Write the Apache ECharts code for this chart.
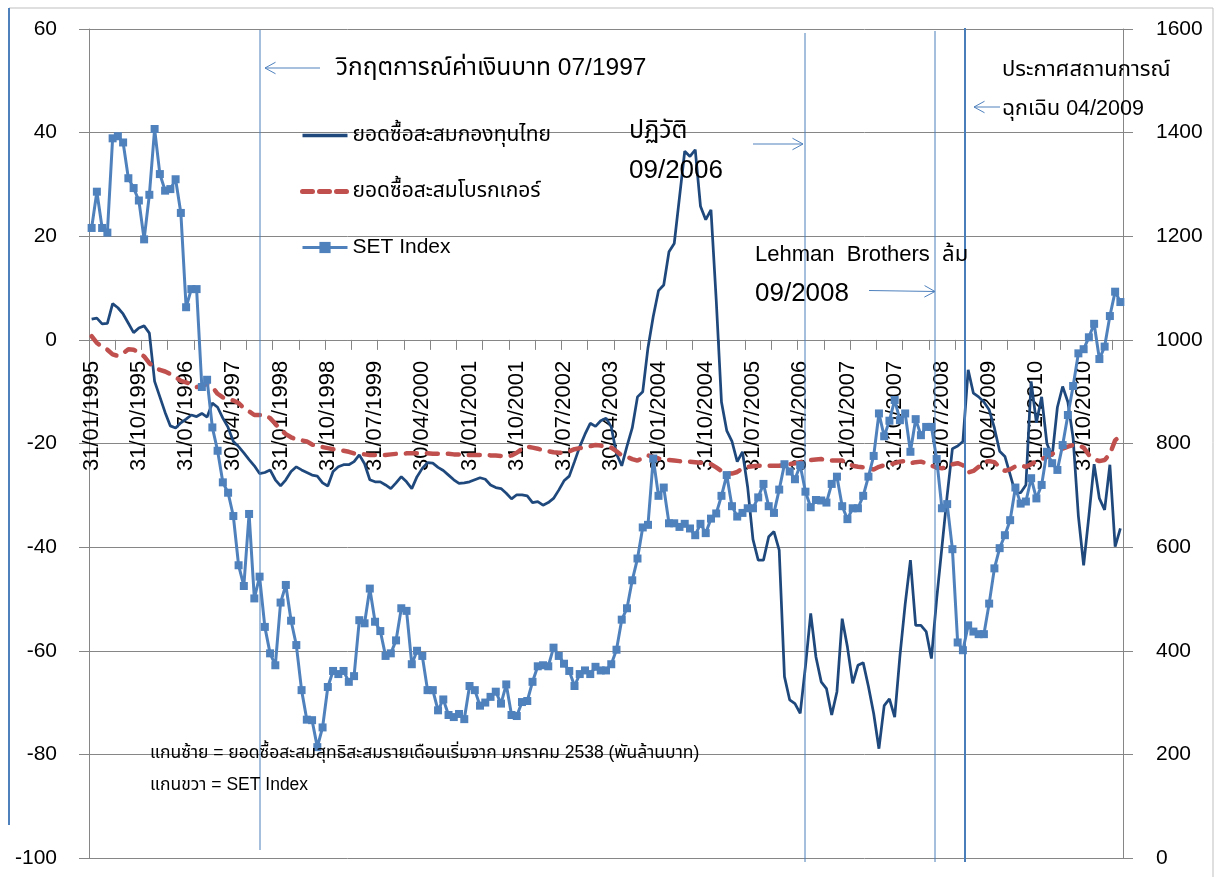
<!DOCTYPE html>
<html>
<head>
<meta charset="utf-8">
<script src="https://cdn.jsdelivr.net/npm/echarts@6/dist/echarts.min.js"></script>
<style>
html,body{margin:0;padding:0;background:#fff;}
#chart{width:1216px;height:877px;}
</style>
</head>
<body>
<div id="chart"></div>
<script>
// ---- data ----
const startYear = 1995;
const startMonth = 1;

const seriesNames = ['ยอดซื้อสะสมกองทุนไทย', 'ยอดซื้อสะสมโบรกเกอร์', 'SET Index'];

const thaiFund = [
4.0,4.2,3.1,3.2,7.0,6.2,5.0,3.2,1.4,2.3,2.7,1.3,-8.0,-11.0,-14.0,-16.6,-17.0,-16.0,-15.3,-14.5,
-14.8,-14.2,-14.9,-12.2,-13.0,-15.1,-16.9,-19.6,-20.6,-21.8,-23.1,-24.3,-25.8,-25.6,-25.1,-27.0,-28.2,-27.0,-25.4,-24.5,
-25.1,-25.6,-26.1,-26.3,-27.6,-28.2,-25.4,-24.5,-24.1,-24.1,-23.5,-22.2,-23.9,-27.0,-27.4,-27.4,-28.0,-28.7,-27.6,-26.4,
-27.4,-28.7,-26.4,-24.8,-23.7,-23.8,-24.6,-25.2,-26.1,-27.0,-27.7,-27.6,-27.4,-27.0,-26.6,-26.9,-28.0,-28.5,-28.7,-29.6,
-30.7,-29.9,-29.9,-30.1,-31.4,-31.2,-31.9,-31.4,-30.6,-29.0,-27.2,-26.3,-23.5,-20.6,-18.2,-16.1,-16.7,-15.6,-15.1,-16.8,
-22.0,-24.3,-20.5,-17.0,-11.0,-10.0,-1.5,4.5,9.5,10.6,17.0,18.6,27.5,36.4,35.4,36.7,25.8,23.2,25.1,7.7,
-12.0,-17.5,-19.6,-23.5,-21.6,-28.5,-38.5,-42.5,-42.5,-38.0,-37.0,-40.6,-65.0,-69.5,-70.2,-72.1,-63.0,-52.8,-61.2,-66.0,
-67.3,-72.4,-67.9,-53.8,-59.3,-66.3,-62.8,-62.3,-66.9,-72.1,-78.9,-70.6,-69.3,-72.8,-61.0,-51.0,-42.5,-55.1,-55.1,-56.3,
-61.5,-50.0,-40.0,-30.0,-21.0,-20.5,-19.6,-5.8,-10.3,-11.0,-12.0,-13.5,-17.0,-21.5,-22.5,-26.0,-29.6,-29.5,-28.0,-8.0,
-16.0,-11.0,-20.0,-22.5,-13.0,-9.0,-12.0,-19.0,-34.0,-43.5,-34.0,-24.0,-30.6,-32.8,-24.1,-39.9,-36.4
];

const broker = [
0.7,-0.6,-1.3,-1.9,-2.8,-3.1,-2.6,-1.8,-1.9,-2.4,-3.2,-4.5,-5.3,-5.8,-6.1,-6.6,-7.2,-7.9,-8.2,-8.6,
-9.1,-8.9,-8.5,-9.1,-10.4,-11.1,-11.5,-11.7,-12.2,-13.2,-13.8,-14.5,-14.5,-14.5,-15.1,-16.2,-17.3,-18.2,-18.8,-19.2,
-19.4,-19.6,-20.2,-20.5,-20.7,-20.9,-21.1,-21.2,-21.4,-21.6,-21.9,-22.0,-22.1,-22.2,-22.2,-22.2,-22.2,-22.1,-22.0,-22.0,
-21.9,-21.9,-21.9,-21.9,-21.9,-22.0,-22.0,-22.0,-22.0,-22.1,-22.1,-22.2,-22.2,-22.2,-22.2,-22.2,-22.3,-22.3,-22.4,-22.5,
-22.3,-21.8,-21.0,-20.6,-20.8,-21.0,-21.3,-21.5,-21.7,-21.8,-21.7,-21.5,-21.1,-20.9,-20.7,-20.5,-20.3,-20.4,-20.6,-20.8,
-21.5,-22.3,-22.6,-23.0,-23.3,-22.8,-22.3,-22.6,-22.9,-23.1,-23.2,-23.3,-23.4,-23.5,-23.5,-23.6,-23.7,-23.8,-24.0,-24.6,
-25.3,-25.8,-25.8,-25.5,-24.8,-24.5,-24.4,-24.3,-24.3,-24.3,-24.3,-24.3,-24.1,-24.0,-23.8,-23.6,-23.4,-23.2,-23.1,-23.0,
-23.2,-23.3,-23.3,-23.3,-23.8,-24.3,-24.5,-24.6,-24.9,-25.0,-24.5,-24.2,-24.0,-23.8,-23.5,-23.4,-23.8,-23.6,-23.5,-23.8,
-24.3,-24.6,-24.8,-24.5,-24.0,-23.8,-24.2,-25.6,-25.3,-24.5,-23.6,-23.4,-23.6,-24.6,-25.3,-25.0,-24.4,-24.2,-24.5,-24.0,
-23.4,-23.0,-22.6,-22.0,-21.6,-21.0,-20.6,-20.3,-20.4,-20.8,-22.2,-23.0,-23.4,-23.2,-22.0,-19.4,-18.5
];

const setIndex = [
1216,1286,1216,1207,1389,1393,1381,1312,1293,1269,1194,1280,1407,1320,1288,1291,1310,1245,1063,1098,
1098,909,923,831,786,725,705,660,565,525,664,501,543,446,395,372,493,527,458,411,
324,267,266,214,252,330,361,355,361,340,351,459,453,520,456,438,390,395,420,482,
477,374,400,390,324,324,285,306,276,272,278,268,332,324,294,300,311,321,298,335,
276,274,301,303,340,370,372,370,406,390,375,361,332,355,362,355,369,362,362,374,
402,460,482,536,578,638,643,771,699,715,646,646,639,645,636,623,645,627,655,665,
699,739,679,659,666,675,675,696,722,679,666,711,760,746,731,758,707,677,691,690,
686,722,736,679,654,675,675,699,736,776,858,814,844,884,845,858,784,847,816,832,
832,770,675,683,596,416,401,449,437,432,432,491,559,598,623,652,715,684,688,733,
694,720,784,762,749,797,855,911,974,982,1005,1031,963,987,1046,1093,1073
];

const leftTicks = {min: -100, max: 60, interval: 20};
const rightTicks = {min: 0, max: 1600, interval: 200};

// month-end date categories
const categories = [];
for (let k = 0; k < thaiFund.length; k++) {
  const y = startYear + Math.floor((startMonth - 1 + k) / 12);
  const m = (startMonth - 1 + k) % 12 + 1;
  const d = new Date(y, m, 0).getDate();
  categories.push(String(d).padStart(2, '0') + '/' + String(m).padStart(2, '0') + '/' + y);
}

// ---- layout ----
const W = 1216, H = 877;
const GRID = {left: 89, right: 93, top: 29, bottom: 19};
const gridH = H - GRID.top - GRID.bottom;
// category axis sits on the left axis' zero line (like the original)
const xAxisOffset = -gridH * (0 - leftTicks.min) / (leftTicks.max - leftTicks.min);

const FONT = "'Liberation Sans', Arial, 'Noto Sans Thai', 'Noto Sans', sans-serif";
const chart = echarts.init(document.getElementById('chart'), null, {renderer: 'canvas'});

const vline = (x, y1, y2, w) => ({type: 'line', shape: {x1: x, y1: y1, x2: x, y2: y2},
  style: {stroke: '#4A7EBB', lineWidth: w || 1}, z: 50});
const arrow = (x1, y1, x2, y2) => {
  const ang = Math.atan2(y2 - y1, x2 - x1);
  const L = 12, A = 0.5;
  return [
    {type: 'line', shape: {x1: x1, y1: y1, x2: x2, y2: y2}, style: {stroke: '#4F81BD', lineWidth: 1}, z: 50},
    {type: 'polyline', shape: {points: [
      [x2 - L * Math.cos(ang - A), y2 - L * Math.sin(ang - A)], [x2, y2],
      [x2 - L * Math.cos(ang + A), y2 - L * Math.sin(ang + A)]]},
      style: {stroke: '#4F81BD', lineWidth: 1, fill: null}, z: 50}
  ];
};
const txt = (x, y, s, size) => ({type: 'text', left: x, top: y - size * 0.6,
  style: {text: s, fill: '#000', font: size + 'px ' + FONT}, z: 60});

const graphics = [
  {type: 'line', shape: {x1: 9, y1: 8, x2: 1213, y2: 8}, style: {stroke: '#BFBFBF', lineWidth: 1}},
  {type: 'line', shape: {x1: 1213, y1: 8, x2: 1213, y2: 877}, style: {stroke: '#BFBFBF', lineWidth: 1}},
  {type: 'line', shape: {x1: 9, y1: 8, x2: 9, y2: 825}, style: {stroke: '#4F81BD', lineWidth: 2}},
  vline(260, 30, 850, 1),
  vline(805, 33, 862, 1),
  vline(935, 31, 862, 1),
  vline(965, 28, 862, 2),
  ...arrow(320, 68, 265, 68),
  ...arrow(753, 144, 803, 144),
  ...arrow(869, 290.5, 935, 291.5),
  ...arrow(1000, 107, 974, 107),
  txt(336, 70, 'วิกฤตการณ์ค่าเงินบาท 07/1997', 24.5),
  txt(629, 134, 'ปฏิวัติ', 25),
  txt(629, 173, '09/2006', 26),
  txt(755, 257, 'Lehman  Brothers  ล้ม', 22),
  txt(755, 296, '09/2008', 26),
  txt(1002, 72, 'ประกาศสถานการณ์', 22),
  txt(1002, 111, 'ฉุกเฉิน 04/2009', 21.5),
  txt(150, 755, 'แกนซ้าย = ยอดซื้อสะสมสุทธิสะสมรายเดือนเริ่มจาก มกราคม 2538 (พันล้านบาท)', 17.5),
  txt(150, 787, 'แกนขวา = SET Index', 17.5)
];

const noSymbol = {color: 'rgba(0,0,0,0)', borderWidth: 0, borderColor: 'rgba(0,0,0,0)'};

const option = {
  animation: false,
  backgroundColor: '#fff',
  textStyle: {fontFamily: FONT},
  grid: {left: GRID.left, right: GRID.right, top: GRID.top, bottom: GRID.bottom,
         containLabel: false, outerBoundsMode: 'none'},
  legend: {
    orient: 'vertical', left: 300, top: 125, padding: 0, itemGap: 35, itemWidth: 45, itemHeight: 14,
    data: [
      {name: seriesNames[0], itemStyle: noSymbol, lineStyle: {width: 3.5}},
      {name: seriesNames[1], itemStyle: noSymbol, lineStyle: {width: 5, type: [10, 7], cap: 'round'}},
      {name: seriesNames[2], lineStyle: {width: 3}}
    ],
    textStyle: {fontSize: 21, color: '#000', fontFamily: FONT, lineHeight: 20}
  },
  xAxis: {
    type: 'category', data: categories, boundaryGap: true, position: 'bottom',
    offset: xAxisOffset,
    axisLine: {show: true, onZero: false, lineStyle: {color: '#868686', width: 1}},
    axisTick: {show: true, interval: 4, length: 10, alignWithLabel: false, lineStyle: {color: '#868686'}},
    axisLabel: {interval: 8, rotate: 90, margin: 21, fontSize: 22, color: '#000', fontFamily: FONT},
    splitLine: {show: false}
  },
  yAxis: [
    {type: 'value', min: leftTicks.min, max: leftTicks.max, interval: leftTicks.interval, position: 'left',
     axisLine: {show: true, lineStyle: {color: '#868686'}},
     axisTick: {show: true, length: 10, lineStyle: {color: '#868686'}},
     axisLabel: {fontSize: 21, color: '#000', margin: 32, fontFamily: FONT},
     splitLine: {show: true, lineStyle: {color: '#868686', width: 1}}},
    {type: 'value', min: rightTicks.min, max: rightTicks.max, interval: rightTicks.interval, position: 'right',
     axisLine: {show: true, lineStyle: {color: '#868686'}},
     axisTick: {show: true, length: 10, lineStyle: {color: '#868686'}},
     axisLabel: {fontSize: 21, color: '#000', margin: 33, fontFamily: FONT, formatter: v => String(v)},
     splitLine: {show: false}}
  ],
  series: [
    {name: seriesNames[0], type: 'line', yAxisIndex: 0, data: thaiFund, symbol: 'none',
     lineStyle: {color: '#1F497D', width: 2.75}, itemStyle: {color: '#1F497D'}, z: 3},
    {name: seriesNames[1], type: 'line', yAxisIndex: 0, data: broker, symbol: 'none',
     lineStyle: {color: '#C0504D', width: 4.5, type: [11, 10], cap: 'round'}, itemStyle: {color: '#C0504D'}, z: 4},
    {name: seriesNames[2], type: 'line', yAxisIndex: 1, data: setIndex, symbol: 'rect', symbolSize: 8,
     showAllSymbol: true,
     lineStyle: {color: '#4F81BD', width: 3}, itemStyle: {color: '#4F81BD'}, z: 5}
  ],
  graphic: graphics
};
chart.setOption(option);
</script>
</body>
</html>
